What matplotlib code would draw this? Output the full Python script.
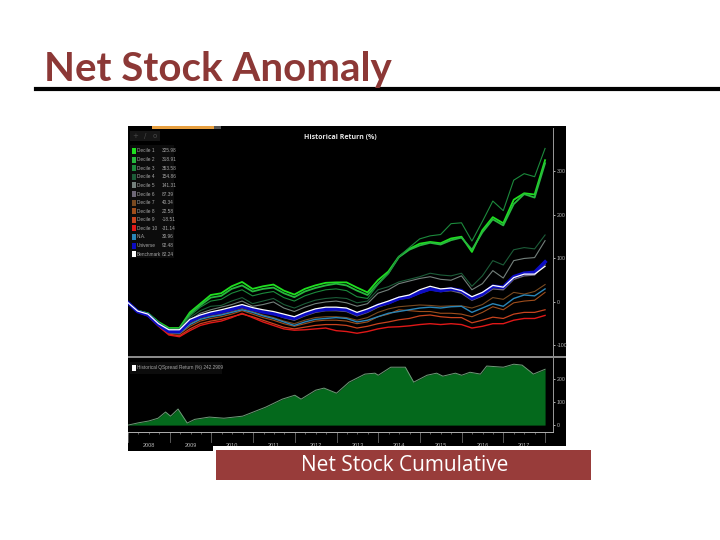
import numpy as np
import matplotlib
matplotlib.use("Agg")
import matplotlib.pyplot as plt
from matplotlib.patches import Rectangle

# Data: quarterly points, 2008.0 to 2018.0
quarters = np.arange(2008, 2018.01, 0.25)

decile_1 = [0, -20, -26, -46, -60, -60, -24, -4, 16, 20, 36, 46, 30, 36, 40, 26, 17, 30, 38, 44,
            45, 45, 33, 22, 50, 70, 104, 122, 134, 138, 135, 146, 150, 115, 165, 195, 181, 235, 250, 247, 326]
decile_2 = [0, -20, -27, -48, -62, -61, -28, -8, 10, 14, 30, 38, 24, 30, 33, 20, 11, 24, 32, 38,
            42, 38, 26, 16, 42, 66, 103, 120, 130, 136, 132, 142, 148, 120, 160, 190, 176, 225, 248, 240, 319]
decile_3 = [0, -20, -27, -48, -62, -62, -32, -12, 2, 6, 20, 28, 14, 20, 24, 10, 2, 14, 22, 28,
            30, 26, 12, 8, 40, 65, 104, 125, 145, 152, 155, 180, 182, 140, 185, 232, 210, 280, 295, 288, 353]
decile_4 = [0, -21, -28, -50, -64, -64, -36, -20, -10, -8, 2, 10, -4, 2, 8, -6, -14, -4, 4, 8,
            10, 8, -2, 2, 28, 35, 46, 52, 58, 66, 62, 60, 66, 36, 60, 95, 85, 120, 125, 122, 154]
decile_5 = [0, -21, -29, -50, -66, -66, -42, -26, -18, -12, -6, 2, -10, -6, 0, -14, -22, -12, -4, 0,
            2, -2, -10, -4, 20, 28, 42, 48, 54, 58, 52, 50, 60, 28, 42, 72, 55, 95, 100, 102, 141]
decile_6 = [0, -22, -30, -52, -68, -68, -46, -34, -28, -24, -18, -10, -18, -24, -28, -36, -42, -32, -24, -20,
            -20, -22, -32, -24, -12, -4, 6, 10, 20, 28, 24, 26, 20, 4, 14, 30, 28, 52, 60, 62, 87]
decile_7 = [0, -22, -30, -53, -70, -72, -50, -38, -32, -28, -22, -15, -22, -30, -36, -44, -50, -42, -36, -34,
            -34, -36, -42, -36, -24, -16, -11, -9, -7, -8, -10, -9, -9, -14, -6, 10, 6, 22, 18, 24, 40]
decile_8 = [0, -22, -31, -54, -72, -74, -56, -44, -38, -34, -28, -20, -28, -36, -42, -50, -56, -50, -44, -42,
            -42, -44, -50, -46, -34, -28, -18, -20, -22, -22, -26, -26, -28, -34, -24, -11, -18, -2, 2, 4, 22]
decile_9 = [0, -23, -32, -55, -74, -78, -62, -50, -44, -40, -34, -28, -34, -42, -50, -58, -62, -58, -54, -52,
            -52, -54, -60, -56, -50, -46, -41, -38, -32, -30, -34, -36, -36, -48, -42, -35, -38, -28, -24, -24, -18]
decile_10 = [0, -23, -32, -56, -76, -80, -66, -54, -48, -44, -36, -26, -36, -46, -54, -62, -65, -64, -62, -60,
             -66, -68, -72, -68, -62, -58, -57, -55, -52, -50, -52, -50, -52, -60, -56, -50, -50, -42, -38, -38, -31]
not_avail = [0, -22, -31, -54, -70, -72, -52, -40, -34, -30, -24, -18, -24, -32, -38, -46, -54, -46, -40, -38,
             -36, -38, -46, -42, -34, -26, -22, -18, -14, -12, -14, -11, -10, -24, -14, -4, -10, 8, 16, 14, 30]
universe = [0, -22, -30, -52, -68, -68, -44, -33, -27, -23, -17, -10, -17, -23, -27, -33, -38, -28, -20, -17,
            -16, -18, -28, -20, -8, -2, 8, 12, 22, 30, 26, 30, 26, 8, 18, 36, 34, 58, 66, 68, 92]
benchmark = [0, -21, -28, -50, -64, -64, -40, -30, -23, -18, -12, -6, -13, -18, -22, -28, -34, -24, -16, -12,
             -12, -14, -24, -16, -6, 2, 11, 16, 28, 36, 30, 32, 26, 12, 22, 38, 34, 56, 64, 64, 82]

spread_years = [2008.0, 2008.25, 2008.5, 2008.72, 2008.9, 2009.02, 2009.2, 2009.42, 2009.6, 2009.95,
                2010.3, 2010.75, 2011.3, 2011.7, 2012.0, 2012.15, 2012.5, 2012.7, 2013.0, 2013.3,
                2013.68, 2013.92, 2014.0, 2014.3, 2014.65, 2014.85, 2015.17, 2015.4, 2015.55, 2015.85,
                2016.0, 2016.2, 2016.45, 2016.6, 2017.0, 2017.25, 2017.45, 2017.72, 2018.0]
spread_values = [0, 10, 18, 30, 57, 39, 70, 9, 25, 35,
                 30, 39, 78, 113, 130, 113, 152, 161, 139, 187,
                 222, 226, 217, 252, 252, 187, 217, 226, 213, 226,
                 217, 230, 222, 257, 252, 265, 261, 222, 243]

series_names = ["Decile 1", "Decile 2", "Decile 3", "Decile 4", "Decile 5", "Decile 6", "Decile 7",
                "Decile 8", "Decile 9", "Decile 10", "N.A.", "Universe", "Benchmark"]
series_labels = ["325.98", "318.91", "353.58", "154.86", "141.31", "87.39", "40.34",
                 "22.58", "-18.51", "-31.14", "30.96", "92.48", "82.24"]
series_values = [decile_1, decile_2, decile_3, decile_4, decile_5, decile_6, decile_7,
                 decile_8, decile_9, decile_10, not_avail, universe, benchmark]
series_colors = ["#1fe01f", "#27b83e", "#1c8a3c", "#1c5c38", "#74807c", "#6e6878", "#7a4a20",
                 "#a04e1c", "#c8431e", "#e01818", "#2a86b8", "#0c0cc4", "#ffffff"]
series_widths = [1.3, 1.3, 0.8, 0.8, 0.8, 1.0, 0.8, 0.8, 0.9, 1.0, 1.0, 2.6, 0.9]

main_ticks = [-100, 0, 100, 200, 300]
spread_ticks = [0, 100, 200]
year_labels = list(range(2008, 2018))

W, H = 720, 540
fig = plt.figure(figsize=(7.2, 5.4), dpi=100, facecolor="white")


def px_axes(x0, y0, x1, y1, z=1):
    # axes from pixel box, y counted from the top
    return fig.add_axes([x0 / W, 1 - y1 / H, (x1 - x0) / W, (y1 - y0) / H], zorder=z)


# slide layer
bg = px_axes(0, 0, W, H, z=0)
bg.set_xlim(0, W)
bg.set_ylim(H, 0)
bg.axis("off")
bg.add_patch(Rectangle((128, 126), 438, 325, color="black", lw=0))
bg.add_patch(Rectangle((152, 126), 62, 2.5, color="#e8a040", lw=0))
bg.add_patch(Rectangle((214, 126), 7, 2.5, color="#555555", lw=0))
bg.add_patch(Rectangle((128, 355.5), 438, 2, color="#8a8a8a", lw=0))
bg.plot([36, 720], [88.7, 88.7], color="black", lw=3)
bg.text(44, 80.5, "Net Stock Anomaly", family="Lato", weight="bold", fontsize=29, color="#8c3836",
        ha="left", va="baseline")

# price panel
ax = px_axes(128, 128, 553, 355, z=2)
ax.set_facecolor("none")
ax.set_xlim(2008.02, 2018.19)
ax.set_ylim(-122, 400)
for vals, col, lw in zip(series_values, series_colors, series_widths):
    ax.plot(quarters, vals, color=col, lw=lw, solid_joinstyle="round")
ax.yaxis.tick_right()
ax.set_yticks(main_ticks)
ax.set_yticklabels([str(t) for t in main_ticks], fontsize=3.8, color="#b5b5b5", family="Liberation Sans")
ax.tick_params(axis="y", length=1.5, width=0.6, color="#cccccc", pad=1)
ax.set_xticks([])
for side in ["top", "left", "bottom"]:
    ax.spines[side].set_visible(False)
ax.spines["right"].set_color("#9a9a9a")
ax.spines["right"].set_linewidth(0.7)

# spread panel
ax2 = px_axes(128, 358, 553, 432, z=2)
ax2.set_facecolor("none")
ax2.set_xlim(2008.02, 2018.19)
ax2.set_ylim(-30, 292)
ax2.fill_between(spread_years, 0, spread_values, color="#04691c", lw=0)
ax2.plot(spread_years, spread_values, color="#6f9a78", lw=0.7)
ax2.yaxis.tick_right()
ax2.set_yticks(spread_ticks)
ax2.set_yticklabels([str(t) for t in spread_ticks], fontsize=3.8, color="#b5b5b5", family="Liberation Sans")
ax2.tick_params(axis="y", length=1.5, width=0.6, color="#cccccc", pad=1)
ax2.set_xticks(np.arange(2008, 2018.1, 0.25))
ax2.tick_params(axis="x", length=1.5, width=0.4, color="#aaaaaa", labelbottom=False)
for side in ["top", "left"]:
    ax2.spines[side].set_visible(False)
ax2.spines["right"].set_color("#9a9a9a")
ax2.spines["right"].set_linewidth(0.7)
ax2.spines["bottom"].set_color("#b0b0b0")
ax2.spines["bottom"].set_linewidth(0.7)

# year separators and labels under the spread panel
for yr in year_labels + [2018]:
    ax2.plot([yr, yr], [-30, -72], color="#666666", lw=0.6, clip_on=False)
for yr in year_labels:
    ax2.text(yr + 0.5, -88, str(yr), fontsize=4, color="#b5b5b5", ha="center", va="center", clip_on=False,
             family="Liberation Sans")

# chart title, zoom icons and legend block
bg.text(340, 137, "Historical Return (%)", fontsize=5, weight="bold", color="#e6e6e6", ha="center", va="center",
        family="Open Sans")
bg.add_patch(Rectangle((130, 131), 30, 10, color="#161616", lw=0))
bg.text(135, 136, "+", fontsize=5, color="#4a4a4a", ha="center", va="center")
bg.text(145, 136, "/", fontsize=5, color="#4a4a4a", ha="center", va="center")
bg.text(155, 136, "o", fontsize=5, color="#4a4a4a", ha="center", va="center")
bg.add_patch(Rectangle((130, 145), 44, 113, color="#0c0c0c", lw=0))
for i, name in enumerate(series_names):
    ty = 151 + i * 8.6
    bg.add_patch(Rectangle((131.5, ty - 3), 4.5, 6, color=series_colors[i], lw=0))
    bg.text(137, ty, name, fontsize=3.4, color="#a8a8a8", ha="left", va="center", family="Liberation Sans")
    bg.text(161.5, ty, series_labels[i], fontsize=3.4, color="#a8a8a8", ha="left", va="center",
            family="Liberation Sans")
bg.add_patch(Rectangle((130, 362), 92, 12, color="#0c0c0c", lw=0))
bg.add_patch(Rectangle((131.5, 365), 4.5, 6, color="white", lw=0))
bg.text(137, 368, "Historical QSpread Return (%) 242.2909", fontsize=3.4, color="#a8a8a8", ha="left", va="center",
        family="Liberation Sans")

# caption box on top of everything
top = px_axes(0, 0, W, H, z=5)
top.set_xlim(0, W)
top.set_ylim(H, 0)
top.axis("off")
top.patch.set_alpha(0)
top.add_patch(Rectangle((213, 446), 381, 38, color="white", lw=0))
top.add_patch(Rectangle((216, 450), 375, 30, color="#983c3a", lw=0))
top.text(404.5, 465.5, "Net Stock Cumulative", family="Open Sans", fontsize=15, color="white", ha="center", va="center")

fig.savefig("out.png", dpi=100)
